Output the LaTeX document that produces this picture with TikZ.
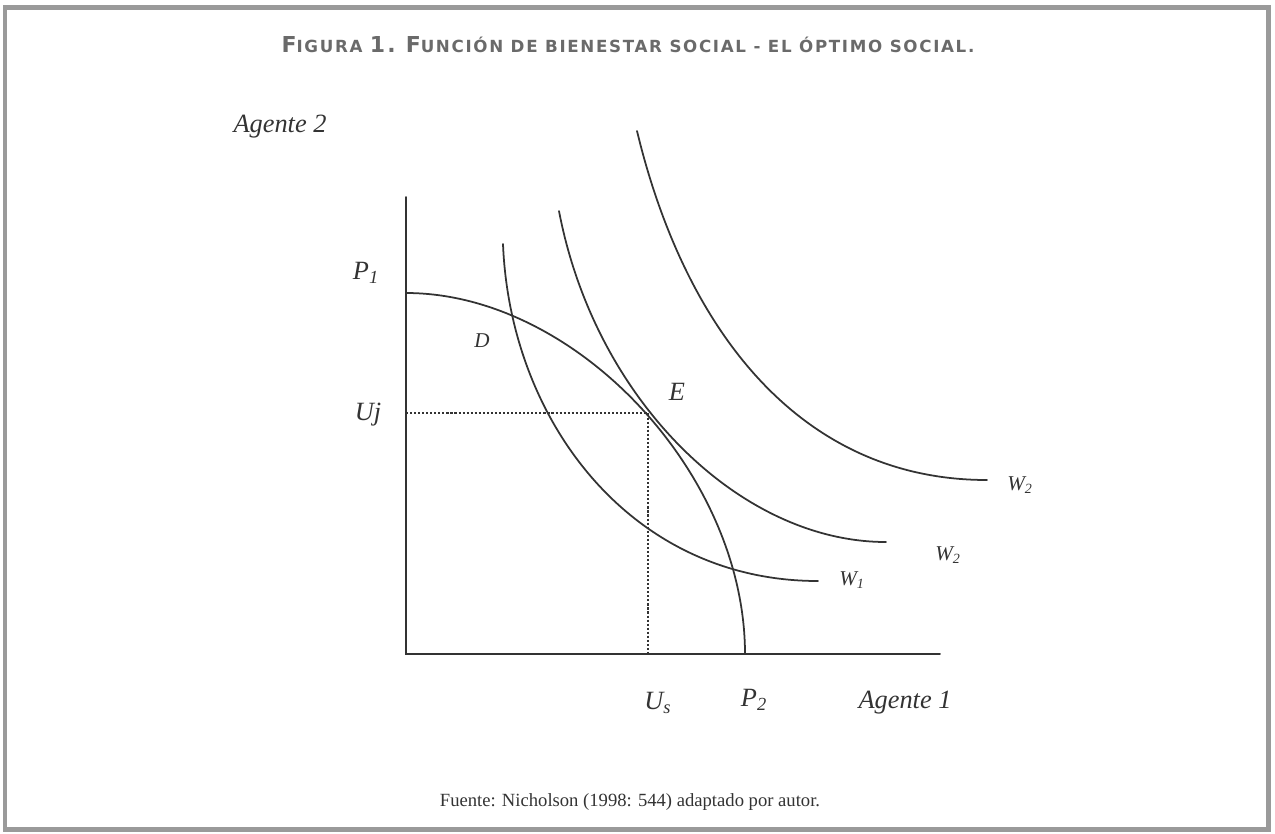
\documentclass[tikz,border=0pt]{standalone}
\usepackage{fontspec}
\setmainfont{Liberation Serif}
\newfontfamily\titlefont[LetterSpace=10]{DejaVu Sans}
\definecolor{ink}{HTML}{333333}
\definecolor{framegray}{HTML}{9A9A9A}
\definecolor{titlegray}{HTML}{6A6A6A}
\newcommand\capbig[1]{{\fontsize{12.5}{12.5}\selectfont #1}}

\begin{document}
\begin{tikzpicture}[
  x=0.02cm, y=-0.02cm,
  line cap=round,
  frame/.style={draw=framegray,line width=0.1cm},
  axis/.style={draw=ink,line width=1.1pt},
  curve/.style={draw=ink,line width=1pt},
  guide/.style={draw=ink,line width=1.3pt,dash pattern=on 1.2pt off 1.1pt,line cap=butt},
  lbl/.style={font=\fontsize{15}{15}\selectfont\itshape,text=ink,inner sep=0pt},
  smlbl/.style={font=\fontsize{12}{12}\selectfont\itshape,text=ink,inner sep=0pt},
  note/.style={font=\fontsize{10.6}{12}\selectfont,text=ink,inner sep=0pt},
  heading/.style={font=\titlefont\bfseries\fontsize{9.5}{9.5}\selectfont,text=titlegray,inner sep=0pt}
]
  \useasboundingbox (0,0) rectangle (1275,833);
  \draw[frame] (5,7) rectangle (1268,829);

  \coordinate (O) at (406,654);
  \coordinate (Ytop) at (406,197);
  \coordinate (Xend) at (940,654);
  \coordinate (P1) at (406,293);
  \coordinate (P2) at (745,654);
  \coordinate (E) at (648,413);

  \draw[axis] (Ytop) -- (O) -- (Xend);
  \draw[guide] (O |- E) -- (E) -- (E |- O);

  \draw[curve] (P1) .. controls (575.5,293) and (745,473.5) .. (P2);
  \draw[curve] (503,244) .. controls (510,420) and (630,581) .. (818,581);
  \draw[curve] (559,211) .. controls (595,400) and (740,542) .. (886,542);
  \draw[curve] (637,131) .. controls (685,330) and (800,480) .. (987,480);

  \node[heading] (titulo) at (628,45)
    {\capbig{F}IGURA \capbig{1.} \capbig{F}UNCIÓN DE BIENESTAR SOCIAL - EL ÓPTIMO SOCIAL.};

  \node[lbl] (agente2) at (280,127) {Agente 2};
  \node[lbl] (p1) at (366,273) {P\textsubscript{1}};
  \node[lbl] (uj) at (368,415) {Uj};
  \node[smlbl] (d) at (482,341) {D};
  \node[lbl] (e) at (677,392) {E};
  \node[smlbl] (w3) at (1020,485) {W\textsubscript{2}};
  \node[smlbl] (w2) at (948,555) {W\textsubscript{2}};
  \node[smlbl] (w1) at (852,580) {W\textsubscript{1}};
  \node[lbl] (us) at (658,703) {U\textsubscript{s}};
  \node[lbl] (p2) at (754,700) {P\textsubscript{2}};
  \node[lbl] (agente1) at (905,703) {Agente 1};

  \node[note] (fuente) at (630,802) {Fuente: Nicholson (1998: 544) adaptado por autor.};
\end{tikzpicture}
\end{document}
